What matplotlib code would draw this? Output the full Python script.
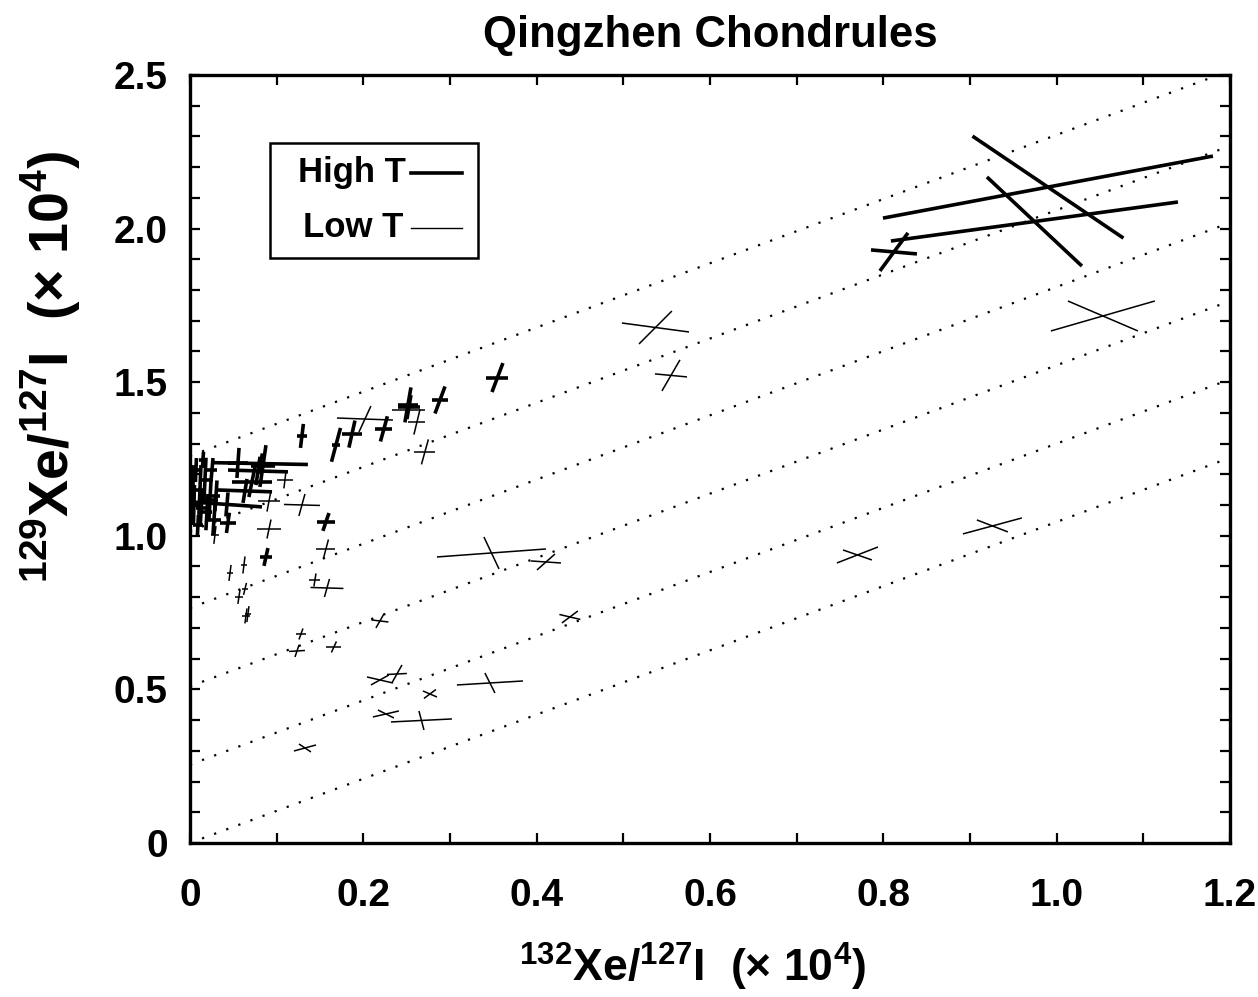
import matplotlib
matplotlib.use("Agg")
import matplotlib.pyplot as plt
import numpy as np
from matplotlib.ticker import MultipleLocator, FuncFormatter
from matplotlib.patches import Rectangle

plt.rcParams['font.family'] = ['Liberation Sans', 'DejaVu Sans']
plt.rcParams['font.weight'] = 'bold'
plt.rcParams['mathtext.fontset'] = 'custom'
plt.rcParams['mathtext.rm'] = 'Liberation Sans:bold'
plt.rcParams['mathtext.bf'] = 'Liberation Sans:bold'

# ---- data: each cross = centre (x, y) and two error arms (half-vectors) ----
# High T extractions
hi_x = [0.990, 0.9744, 0.8123, 0.3548, 0.1292, 0.1685, 0.1869, 0.2238, 0.2515, 0.2527,
        0.2885, 0.1569, 0.0877, 0.0813, 0.0427, 0.0785, 0.0715, 0.0635, 0.0438, 0.0842,
        0.0554, 0.0069, 0.0115, 0.0173, 0.0231, 0.0046, 0.0196, 0.0277, 0.0092, 0.0150, 0.0254,
        0.0035, 0.0130, 0.0300]
hi_y = [2.135, 2.023, 1.924, 1.515, 1.325, 1.296, 1.331, 1.348, 1.426, 1.419,
        1.442, 1.045, 0.931, 1.235, 1.102, 1.211, 1.175, 1.146, 1.042, 1.227,
        1.237, 1.214, 1.149, 1.182, 1.117, 1.100, 1.077, 1.051, 1.035, 1.247, 1.214,
        1.160, 1.090, 1.130]
hi_a1x = [0.1904, 0.1656, 0.0265, 0.0127, 0.0058, 0.0046, 0.0115, 0.0098, 0.0115, 0.0127,
          0.0087, 0.0104, 0.0069, 0.0548, 0.0404, 0.0346, 0.0231, 0.0312, 0.0092, 0.0138,
          0.0115, 0.0058, 0.0069, 0.0069, 0.0092, 0.0046, 0.0058, 0.0081, 0.0058, 0.0046, 0.0058,
          0.0035, 0.0058, 0.0046]
hi_a1y = [0.101, 0.0635, -0.0065, 0.0, 0.0, 0.0, 0.0, 0.0, 0.0, 0.0,
          0.0, 0.0, 0.0, -0.003, -0.008, -0.003, 0.0, -0.003, 0.0, 0.0,
          0.0, 0.0, 0.0, 0.0, 0.0, 0.0, 0.0, 0.0, 0.0, 0.0, 0.0,
          0.0, 0.0, 0.0]
hi_a2x = [0.0871, 0.0548, 0.0162, 0.0063, 0.0017, 0.0052, 0.0035, 0.0040, 0.0035, 0.0023,
          0.0058, 0.0035, 0.0023, 0.0023, 0.0012, 0.0023, 0.0035, 0.0023, 0.0017, 0.0035,
          0.0012, 0.0006, 0.0012, 0.0012, 0.0012, 0.0006, 0.0012, 0.0012, 0.0006, 0.0006, 0.0012,
          0.0006, 0.0012, 0.0012]
hi_a2y = [-0.166, -0.145, 0.0619, 0.0472, 0.039, 0.055, 0.044, 0.041, 0.057, 0.039,
          0.044, 0.029, 0.029, 0.033, 0.039, 0.046, 0.049, 0.039, 0.033, 0.068,
          0.049, 0.039, 0.081, 0.072, 0.065, 0.065, 0.059, 0.049, 0.033, 0.026, 0.039,
          0.070, 0.060, 0.050]

# Low T extractions
lo_x = [1.0534, 0.5371, 0.5550, 0.7702, 0.9259, 0.3479, 0.4108, 0.4384, 0.3461, 0.2769,
        0.2192, 0.2388, 0.2261, 0.2671, 0.1327, 0.2192, 0.1661, 0.1281, 0.1235, 0.1442,
        0.1581, 0.1569, 0.1292, 0.0912, 0.0912, 0.1096, 0.0462, 0.0623, 0.0635, 0.0565,
        0.0646, 0.0669, 0.2019, 0.2619, 0.2711, 0.2521, 0.0288]
lo_y = [1.7155, 1.678, 1.522, 0.9375, 1.032, 0.944, 0.9147, 0.7357, 0.5208, 0.485,
        0.5306, 0.5501, 0.4199, 0.3988, 0.3092, 0.7227, 0.638, 0.6803, 0.625, 0.8561,
        0.8301, 0.957, 1.1003, 1.113, 1.022, 1.182, 0.879, 0.905, 0.827, 0.801,
        0.739, 0.745, 1.380, 1.370, 1.273, 1.408, 1.0026]
lo_a1x = [0.060, 0.0387, 0.0185, 0.0237, 0.034, 0.0629, 0.0173, 0.0121, 0.0381, 0.0081,
          0.015, 0.0115, 0.015, 0.0352, 0.0127, 0.0098, 0.0087, 0.0058, 0.0092, 0.0063,
          0.019, 0.011, 0.0208, 0.0127, 0.0144, 0.0092, 0.0035, 0.0035, 0.004, 0.0046,
          0.0046, 0.0035, 0.0323, 0.0098, 0.0121, 0.019, 0.0046]
lo_a1y = [0.0488, -0.0146, -0.0049, 0.026, 0.026, 0.013, -0.0033, -0.0081, 0.0065, -0.0098,
          -0.0098, 0.0016, 0.0098, 0.0049, 0.0098, -0.0033, 0.0, 0.0, 0.0016, 0.0,
          -0.0016, 0.0, -0.0016, 0.0, 0.0, 0.0, 0.0, 0.0, 0.0, 0.0,
          0.0, 0.0, -0.0033, 0.0, 0.0, 0.0, 0.0]
lo_a2x = [0.0404, 0.019, 0.0104, 0.0167, 0.0179, 0.0087, 0.0104, 0.0092, 0.0058, 0.0069,
          0.0104, 0.0058, 0.0092, 0.0029, 0.0069, 0.0046, 0.0029, 0.0023, 0.0023, 0.0012,
          0.0029, 0.0029, 0.0035, 0.0023, 0.0023, 0.0012, 0.0012, 0.0012, 0.0017, 0.0012,
          0.0012, 0.0012, 0.0069, 0.0035, 0.004, 0.0012, 0.0012]
lo_a2y = [-0.0488, 0.0537, 0.0505, -0.0163, -0.0195, -0.052, 0.026, 0.0195, -0.0326, 0.0146,
          0.0163, 0.0293, -0.013, -0.0309, -0.013, 0.0228, 0.0179, 0.0179, 0.0195, 0.0212,
          0.0293, 0.0309, 0.0358, 0.0342, 0.0309, 0.0277, 0.026, 0.0277, 0.0195, 0.0228,
          0.0244, 0.026, 0.0423, 0.0407, 0.0407, 0.016, 0.029]

# reference (isochron) lines
ref_slope = 1.045
ref_intercepts = [0.0, 0.255, 0.51, 0.765, 1.015, 1.26]

fig = plt.figure(figsize=(12.58, 9.97), dpi=100)
ax = fig.add_axes([0.151, 0.1545, 0.8267, 0.7703])

xx = np.array([0.0, 1.2])
for b in ref_intercepts:
    ax.plot(xx, b + ref_slope * xx, color='black', lw=1.6, linestyle=(0, (1, 4.8)), zorder=1)

def draw_cross(xs, ys, a1x, a1y, a2x, a2y, lw):
    for x, y, ux, uy, vx, vy in zip(xs, ys, a1x, a1y, a2x, a2y):
        ax.plot([x - ux, x + ux], [y - uy, y + uy], color='black', lw=lw,
                solid_capstyle='butt', zorder=3)
        ax.plot([x - vx, x + vx], [y - vy, y + vy], color='black', lw=lw,
                solid_capstyle='butt', zorder=3)

draw_cross(hi_x, hi_y, hi_a1x, hi_a1y, hi_a2x, hi_a2y, 2.6)
draw_cross(lo_x, lo_y, lo_a1x, lo_a1y, lo_a2x, lo_a2y, 1.1)

ax.set_xlim(0, 1.2)
ax.set_ylim(0, 2.5)
ax.xaxis.set_major_locator(MultipleLocator(0.2))
ax.xaxis.set_minor_locator(MultipleLocator(0.1))
ax.yaxis.set_major_locator(MultipleLocator(0.5))
ax.yaxis.set_minor_locator(MultipleLocator(0.1))
fmt = FuncFormatter(lambda v, p: '0' if abs(v) < 1e-9 else f'{v:.1f}')
ax.xaxis.set_major_formatter(fmt)
ax.yaxis.set_major_formatter(fmt)
ax.tick_params(which='both', direction='in', top=True, right=True, length=7, width=1.6)
ax.tick_params(axis='x', which='major', labelsize=28, pad=25)
ax.tick_params(axis='y', which='major', labelsize=28, pad=16)
for lab in ax.get_xticklabels() + ax.get_yticklabels():
    lab.set_fontweight('bold')
for s in ax.spines.values():
    s.set_linewidth(2.4)

ax.set_title('Qingzhen Chondrules', fontsize=31.5, fontweight='bold', pad=20)
ax.set_xlabel(r'$^{132}$Xe/$^{127}$I  ($\times$ 10$^{4}$)', fontsize=32, fontweight='bold')
ax.set_ylabel(r'$^{129}$Xe/$^{127}$I  ($\times$ 10$^{4}$)', fontsize=40, fontweight='bold')
ax.xaxis.set_label_coords(0.483, -0.127)
ax.yaxis.set_label_coords(-0.103, 0.62)

# legend box drawn manually
ax.add_patch(Rectangle((0.077, 0.762), 0.200, 0.149, transform=ax.transAxes,
                       fill=False, lw=1.8, edgecolor='black', zorder=4))
ax.text(0.208, 0.873, 'High T', transform=ax.transAxes, ha='right', va='center',
        fontsize=25, fontweight='bold')
ax.text(0.205, 0.801, 'Low T', transform=ax.transAxes, ha='right', va='center',
        fontsize=25, fontweight='bold')
ax.plot([0.213, 0.262], [0.873, 0.873], transform=ax.transAxes, color='black', lw=2.6)
ax.plot([0.213, 0.262], [0.801, 0.801], transform=ax.transAxes, color='black', lw=1.0)

fig.savefig('out.png', dpi=100)
